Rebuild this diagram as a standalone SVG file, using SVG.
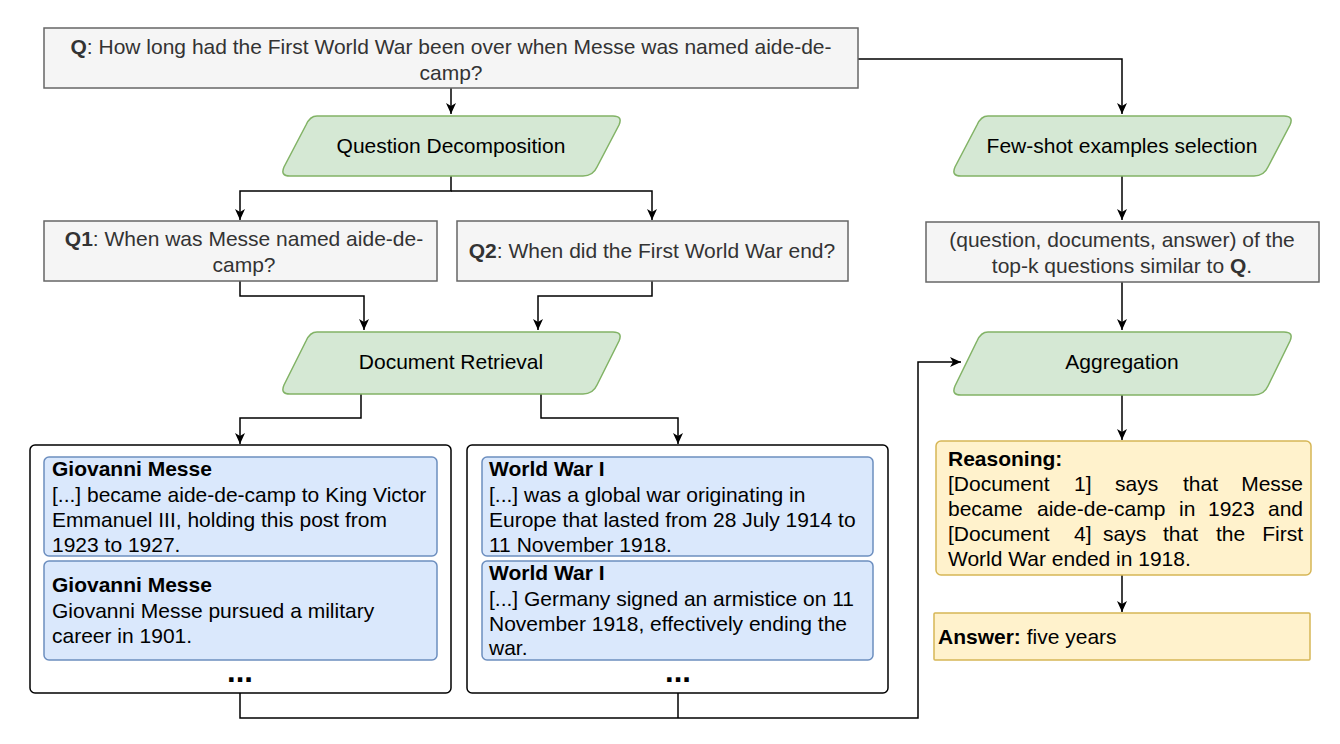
<svg xmlns="http://www.w3.org/2000/svg" width="1340" height="744" viewBox="0 0 1340 744">
<defs>
<marker id="ah" viewBox="0 0 12 12" refX="11" refY="6" markerWidth="12" markerHeight="12" markerUnits="userSpaceOnUse" orient="auto">
<path d="M0,1 L11,6 L0,11 L3,6 Z" fill="#000"/>
</marker>
<style>
text{font-family:"Liberation Sans",Arial,sans-serif;font-size:21px;fill:#000}
.g{fill:#333}
.b{font-weight:bold}
.dots{font-weight:bold;font-size:31px}
.grey{fill:#f5f5f5;stroke:#666;stroke-width:1.5}
.green{fill:#d5e8d4;stroke:#82b366;stroke-width:1.5}
.blue{fill:#dae8fc;stroke:#6c8ebf;stroke-width:1.5}
.yel{fill:#fff2cc;stroke:#d6b656;stroke-width:1.5}
.cont{fill:#fff;stroke:#000;stroke-width:1.5}
.c{fill:none;stroke:#000;stroke-width:1.5}
.m{text-anchor:middle}
</style>
</defs>
<rect width="1340" height="744" fill="#fff"/>

<g id="connectors">
<path class="c" d="M451,88 V114" marker-end="url(#ah)"/>
<path class="c" d="M858,59 H1122 V114" marker-end="url(#ah)"/>
<path class="c" d="M451,176 V191 H240 V220" marker-end="url(#ah)"/>
<path class="c" d="M451,191 H652 V220" marker-end="url(#ah)"/>
<path class="c" d="M240,281 V296 H364 V330" marker-end="url(#ah)"/>
<path class="c" d="M652,281 V296 H538 V330" marker-end="url(#ah)"/>
<path class="c" d="M361,394 V418 H240 V444" marker-end="url(#ah)"/>
<path class="c" d="M541,394 V418 H678 V444" marker-end="url(#ah)"/>
<path class="c" d="M1122,176 V220" marker-end="url(#ah)"/>
<path class="c" d="M1122,282 V330" marker-end="url(#ah)"/>
<path class="c" d="M240,693 V718 H918 V362 H961" marker-end="url(#ah)"/>
<path class="c" d="M678,693 V718"/>
<path class="c" d="M1122,395 V440" marker-end="url(#ah)"/>
<path class="c" d="M1122,575 V612" marker-end="url(#ah)"/>
</g>

<g id="q">
<rect class="grey" x="44" y="28" width="814" height="60"/>
<text class="g m" x="451" y="54"><tspan class="b">Q</tspan>: How long had the First World War been over when Messe was named aide-de-</text>
<text class="g m" x="451" y="80">camp?</text>
</g>

<g id="qdecomp">
<path class="green" d="M317,116 H613 Q623,116 619,125 L597,167 Q593,176 583,176 H290 Q280,176 284,167 L306,125 Q310,116 317,116 Z"/>
<text class="m" x="451" y="153">Question Decomposition</text>
</g>

<g id="q1">
<rect class="grey" x="44" y="221" width="393" height="60"/>
<text class="g m" x="244" y="246"><tspan class="b">Q1</tspan>: When was Messe named aide-de-</text>
<text class="g m" x="244" y="272">camp?</text>
</g>

<g id="q2">
<rect class="grey" x="457" y="221" width="391" height="60"/>
<text class="g m" x="652" y="258"><tspan class="b">Q2</tspan>: When did the First World War end?</text>
</g>

<g id="docret">
<path class="green" d="M317,332 H613 Q623,332 619,341 L597,385 Q593,394 583,394 H290 Q280,394 284,385 L306,341 Q310,332 317,332 Z"/>
<text class="m" x="451" y="369">Document Retrieval</text>
</g>

<g id="docs-left">
<rect class="cont" x="30" y="445" width="421" height="248" rx="5"/>
<rect class="blue" x="44" y="457" width="393" height="99" rx="5"/>
<text class="b" x="52" y="476">Giovanni Messe</text>
<text x="52" y="502">[...] became aide-de-camp to King Victor</text>
<text x="52" y="527">Emmanuel III, holding this post from</text>
<text x="52" y="552">1923 to 1927.</text>
<rect class="blue" x="44" y="561" width="393" height="99" rx="5"/>
<text class="b" x="52" y="592">Giovanni Messe</text>
<text x="52" y="618">Giovanni Messe pursued a military</text>
<text x="52" y="643">career in 1901.</text>
<text class="dots m" x="240" y="682">...</text>
</g>

<g id="docs-right">
<rect class="cont" x="467" y="445" width="421" height="248" rx="5"/>
<rect class="blue" x="482" y="457" width="391" height="99" rx="5"/>
<text class="b" x="489" y="476">World War I</text>
<text x="489" y="502">[...] was a global war originating in</text>
<text x="489" y="527">Europe that lasted from 28 July 1914 to</text>
<text x="489" y="552">11 November 1918.</text>
<rect class="blue" x="482" y="561" width="391" height="99" rx="5"/>
<text class="b" x="489" y="580">World War I</text>
<text x="489" y="606">[...] Germany signed an armistice on 11</text>
<text x="489" y="631">November 1918, effectively ending the</text>
<text x="489" y="655">war.</text>
<text class="dots m" x="678" y="682">...</text>
</g>

<g id="fewshot">
<path class="green" d="M988,116 H1284 Q1294,116 1290,125 L1268,167 Q1264,176 1254,176 H961 Q951,176 955,167 L977,125 Q981,116 988,116 Z"/>
<text class="m" x="1122" y="153">Few-shot examples selection</text>
</g>

<g id="topk">
<rect class="grey" x="926" y="222" width="393" height="60"/>
<text class="g m" x="1122" y="247">(question, documents, answer) of the</text>
<text class="g m" x="1122" y="273">top-k questions similar to <tspan class="b">Q</tspan>.</text>
</g>

<g id="aggregation">
<path class="green" d="M988,332 H1284 Q1294,332 1290,341 L1268,386 Q1264,395 1254,395 H961 Q951,395 955,386 L977,341 Q981,332 988,332 Z"/>
<text class="m" x="1122" y="369">Aggregation</text>
</g>

<g id="reasoning">
<rect class="yel" x="936" y="441" width="375" height="134" rx="5"/>
<text class="b" x="948" y="466">Reasoning:</text>
<text y="491"><tspan x="948">[Document</tspan><tspan x="1074">1]</tspan><tspan x="1115">says</tspan><tspan x="1183">that</tspan></text>
<text x="1303" y="491" text-anchor="end">Messe</text>
<text y="516"><tspan x="948">became</tspan><tspan x="1037">aide-de-camp</tspan><tspan x="1179">in</tspan><tspan x="1208">1923</tspan></text>
<text x="1303" y="516" text-anchor="end">and</text>
<text y="541"><tspan x="948">[Document</tspan><tspan x="1074">4]</tspan><tspan x="1103">says</tspan><tspan x="1163">that</tspan><tspan x="1216">the</tspan></text>
<text x="1303" y="541" text-anchor="end">First</text>
<text x="948" y="566">World War ended in 1918.</text>
</g>

<g id="answer">
<rect class="yel" x="934" y="613" width="376" height="47" rx="1"/>
<text x="938" y="644"><tspan class="b">Answer:</tspan> five years</text>
</g>
</svg>
